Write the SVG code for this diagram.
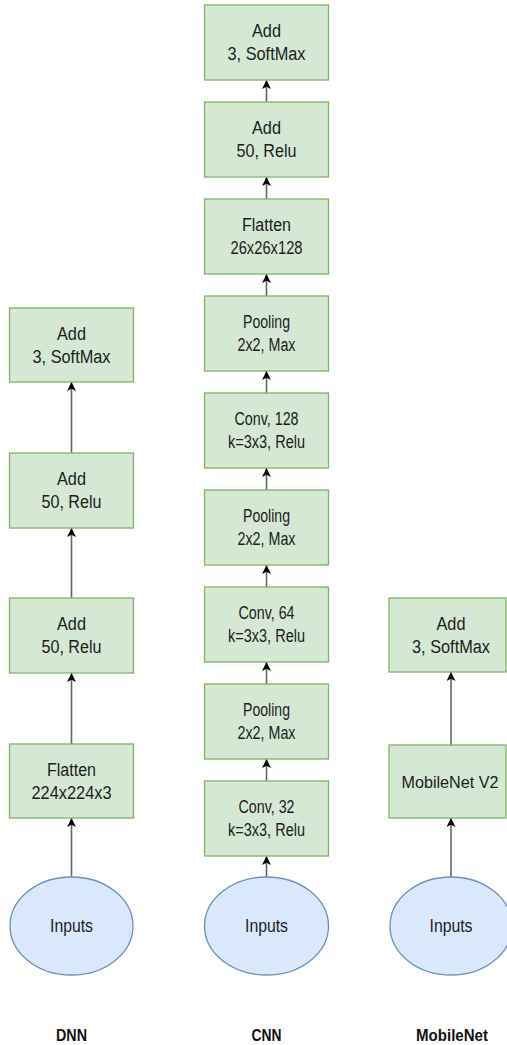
<svg xmlns="http://www.w3.org/2000/svg" width="507" height="1045" viewBox="0 0 507 1045">
<defs>
<marker id="ah" viewBox="0 0 10 10" refX="10" refY="5" markerWidth="9" markerHeight="9" markerUnits="userSpaceOnUse" orient="auto">
<path d="M0,0 L10,5 L0,10 L2.5,5 Z" fill="#000"/>
</marker>
<style>
.box{fill:#d5e8d4;stroke:#82b366;stroke-width:1.3}
.ell{fill:#dae8fc;stroke:#6c8ebf;stroke-width:1.3}
.t{font-family:"Liberation Sans",Arial,sans-serif;font-size:18px;fill:#1c1c1c;text-anchor:middle}
.lb{font-family:"Liberation Sans",Arial,sans-serif;font-size:17px;font-weight:bold;fill:#111;text-anchor:middle}
.c{stroke:#666;stroke-width:1.6;fill:none;marker-end:url(#ah)}
</style>
</defs>
<rect width="507" height="1045" fill="#fff"/>

<g id="connectors">
<line class="c" x1="71.5" y1="877" x2="71.5" y2="818"/>
<line class="c" x1="71.5" y1="744" x2="71.5" y2="673"/>
<line class="c" x1="71.5" y1="598" x2="71.5" y2="528"/>
<line class="c" x1="71.5" y1="453" x2="71.5" y2="382"/>
<line class="c" x1="266.5" y1="877" x2="266.5" y2="856"/>
<line class="c" x1="266.5" y1="781" x2="266.5" y2="759"/>
<line class="c" x1="266.5" y1="684" x2="266.5" y2="662"/>
<line class="c" x1="266.5" y1="587" x2="266.5" y2="565"/>
<line class="c" x1="266.5" y1="490" x2="266.5" y2="468"/>
<line class="c" x1="266.5" y1="393" x2="266.5" y2="371"/>
<line class="c" x1="266.5" y1="296" x2="266.5" y2="274"/>
<line class="c" x1="266.5" y1="199" x2="266.5" y2="177"/>
<line class="c" x1="266.5" y1="102" x2="266.5" y2="80"/>
<line class="c" x1="451" y1="877" x2="451" y2="818"/>
<line class="c" x1="451" y1="745" x2="451" y2="672"/>
</g>

<g id="dnn-softmax"><rect class="box" x="9.5" y="308" width="124" height="74"/><text class="t" x="71.5" y="340" textLength="29" lengthAdjust="spacingAndGlyphs">Add</text><text class="t" x="71.5" y="363" textLength="78" lengthAdjust="spacingAndGlyphs">3, SoftMax</text></g>
<g id="dnn-dense2"><rect class="box" x="9.5" y="453" width="124" height="75"/><text class="t" x="71.5" y="485" textLength="29" lengthAdjust="spacingAndGlyphs">Add</text><text class="t" x="71.5" y="508" textLength="60" lengthAdjust="spacingAndGlyphs">50, Relu</text></g>
<g id="dnn-dense1"><rect class="box" x="9.5" y="598" width="124" height="75"/><text class="t" x="71.5" y="630" textLength="29" lengthAdjust="spacingAndGlyphs">Add</text><text class="t" x="71.5" y="653" textLength="60" lengthAdjust="spacingAndGlyphs">50, Relu</text></g>
<g id="dnn-flatten"><rect class="box" x="9.5" y="744" width="124" height="74"/><text class="t" x="71.5" y="776" textLength="49" lengthAdjust="spacingAndGlyphs">Flatten</text><text class="t" x="71.5" y="799" textLength="80" lengthAdjust="spacingAndGlyphs">224x224x3</text></g>
<g id="dnn-inputs"><ellipse class="ell" cx="71.5" cy="926" rx="61.5" ry="49"/><text class="t" x="71.5" y="932" textLength="43" lengthAdjust="spacingAndGlyphs">Inputs</text></g>

<g id="cnn-softmax"><rect class="box" x="204.5" y="5" width="124" height="75"/><text class="t" x="266.5" y="37" textLength="29" lengthAdjust="spacingAndGlyphs">Add</text><text class="t" x="266.5" y="60" textLength="78" lengthAdjust="spacingAndGlyphs">3, SoftMax</text></g>
<g id="cnn-dense"><rect class="box" x="204.5" y="102" width="124" height="75"/><text class="t" x="266.5" y="134" textLength="29" lengthAdjust="spacingAndGlyphs">Add</text><text class="t" x="266.5" y="157" textLength="60" lengthAdjust="spacingAndGlyphs">50, Relu</text></g>
<g id="cnn-flatten"><rect class="box" x="204.5" y="199" width="124" height="75"/><text class="t" x="266.5" y="231" textLength="49" lengthAdjust="spacingAndGlyphs">Flatten</text><text class="t" x="266.5" y="254" textLength="72" lengthAdjust="spacingAndGlyphs">26x26x128</text></g>
<g id="cnn-pool3"><rect class="box" x="204.5" y="296" width="124" height="75"/><text class="t" x="266.5" y="328" textLength="47" lengthAdjust="spacingAndGlyphs">Pooling</text><text class="t" x="266.5" y="351" textLength="58" lengthAdjust="spacingAndGlyphs">2x2, Max</text></g>
<g id="cnn-conv128"><rect class="box" x="204.5" y="393" width="124" height="75"/><text class="t" x="266.5" y="425" textLength="64" lengthAdjust="spacingAndGlyphs">Conv, 128</text><text class="t" x="266.5" y="448" textLength="77" lengthAdjust="spacingAndGlyphs">k=3x3, Relu</text></g>
<g id="cnn-pool2"><rect class="box" x="204.5" y="490" width="124" height="75"/><text class="t" x="266.5" y="522" textLength="47" lengthAdjust="spacingAndGlyphs">Pooling</text><text class="t" x="266.5" y="545" textLength="58" lengthAdjust="spacingAndGlyphs">2x2, Max</text></g>
<g id="cnn-conv64"><rect class="box" x="204.5" y="587" width="124" height="75"/><text class="t" x="266.5" y="619" textLength="56" lengthAdjust="spacingAndGlyphs">Conv, 64</text><text class="t" x="266.5" y="642" textLength="77" lengthAdjust="spacingAndGlyphs">k=3x3, Relu</text></g>
<g id="cnn-pool1"><rect class="box" x="204.5" y="684" width="124" height="75"/><text class="t" x="266.5" y="716" textLength="47" lengthAdjust="spacingAndGlyphs">Pooling</text><text class="t" x="266.5" y="739" textLength="58" lengthAdjust="spacingAndGlyphs">2x2, Max</text></g>
<g id="cnn-conv32"><rect class="box" x="204.5" y="781" width="124" height="75"/><text class="t" x="266.5" y="813" textLength="56" lengthAdjust="spacingAndGlyphs">Conv, 32</text><text class="t" x="266.5" y="836" textLength="77" lengthAdjust="spacingAndGlyphs">k=3x3, Relu</text></g>
<g id="cnn-inputs"><ellipse class="ell" cx="266.5" cy="926" rx="62" ry="49"/><text class="t" x="266.5" y="932" textLength="43" lengthAdjust="spacingAndGlyphs">Inputs</text></g>

<g id="mob-softmax"><rect class="box" x="389" y="598" width="117" height="74"/><text class="t" x="451" y="630" textLength="29" lengthAdjust="spacingAndGlyphs">Add</text><text class="t" x="451" y="653" textLength="78" lengthAdjust="spacingAndGlyphs">3, SoftMax</text></g>
<g id="mob-base"><rect class="box" x="389" y="745" width="117" height="73"/><text class="t" x="450" y="788" style="font-size:16.5px" textLength="97" lengthAdjust="spacingAndGlyphs">MobileNet V2</text></g>
<g id="mob-inputs"><ellipse class="ell" cx="451" cy="926" rx="61" ry="49"/><text class="t" x="451" y="932" textLength="43" lengthAdjust="spacingAndGlyphs">Inputs</text></g>

<g id="labels">
<text class="lb" x="71.5" y="1041" textLength="31" lengthAdjust="spacingAndGlyphs">DNN</text>
<text class="lb" x="266.5" y="1041" textLength="30" lengthAdjust="spacingAndGlyphs">CNN</text>
<text class="lb" x="452" y="1041" textLength="72" lengthAdjust="spacingAndGlyphs">MobileNet</text>
</g>
</svg>
